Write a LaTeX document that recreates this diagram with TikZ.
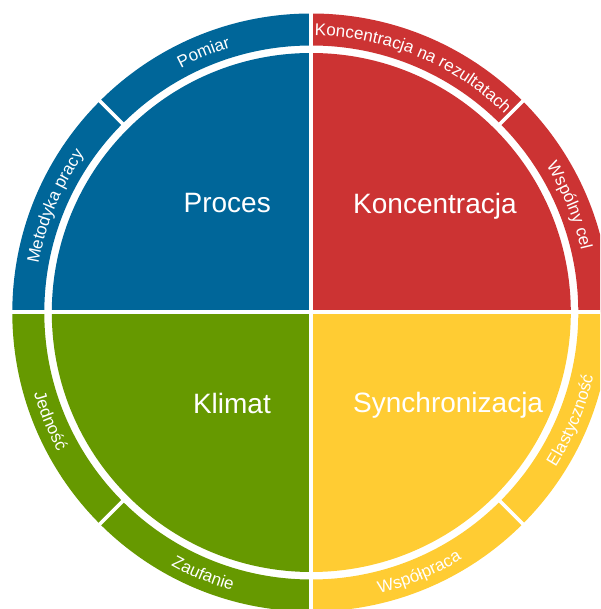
\documentclass[tikz,border=0pt]{standalone}
\usepackage{fontspec}
\setmainfont{Liberation Sans}
\usetikzlibrary{decorations.text}
\definecolor{procesBlue}{RGB}{0,102,153}
\definecolor{koncRed}{RGB}{204,51,51}
\definecolor{synchYellow}{RGB}{255,204,51}
\definecolor{klimatGreen}{RGB}{102,153,0}
\newcommand{\ringFont}{\fontsize{17}{17}\selectfont\color{white}}

\begin{document}
\begin{tikzpicture}
[x=1pt,y=1pt,%
  gapDecorate/.style={white,line width=4pt},%
  sepDecorate/.style={white,line width=3.5pt},%
  labelDecorate/.style={text=white,inner sep=0pt,font=\fontsize{28}{28}\selectfont}]
%% frame of the picture
\useasboundingbox (-311.3,-296.5) rectangle (288.7,312.5);
\clip (-311.3,-296.5) rectangle (288.7,312.5);
%% quadrants and outer ring
\foreach \colr/\a in {koncRed/0, procesBlue/90, klimatGreen/180, synchYellow/270}
{
  \fill[\colr] (0,0) -- (\a:259.5) arc[start angle=\a,delta angle=90,radius=259.5] -- cycle;
  \fill[\colr] (\a:267) arc[start angle=\a,delta angle=90,radius=267]
    -- ({\a+90}:299) arc[start angle={\a+90},delta angle=-90,radius=299] -- cycle;
}
%% white gaps
\draw[gapDecorate] (-305,0) -- (305,0);
\draw[gapDecorate] (0,-305) -- (0,305);
\foreach \a in {45,135,225,315}
  \draw[sepDecorate] (\a:265) -- (\a:302);
%% quadrant labels
\foreach \nodename/\x/\y/\side/\labelText in {
  proces/-40.3/99.5/base east/Proces, koncentracja/41.7/99.2/base west/Koncentracja,
  klimat/-40.3/-101.5/base east/Klimat, synchronizacja/41.7/-100.5/base west/Synchronizacja}
{
  \node[labelDecorate,anchor=\side] (\nodename) at (\x,\y) {\labelText};
}
%% ring labels
\foreach \ringText/\from/\to/\rad in {
  Pomiar/135/90/277, Metodyka pracy/180/135/277,
  Koncentracja na rezultatach/90/45/277, Wspólny cel/45/0/277,
  Jedność/180/225/289, Zaufanie/225/270/289,
  Współpraca/270/315/289, Elastyczność/315/360/289}
{
  \edef\ringLabel{|\noexpand\ringFont|\ringText}
  \path[decorate,decoration={text along path,text align=center,text/.expand once=\ringLabel}]
    (\from:\rad) arc[start angle=\from,end angle=\to,radius=\rad];
}
\end{tikzpicture}
\end{document}
